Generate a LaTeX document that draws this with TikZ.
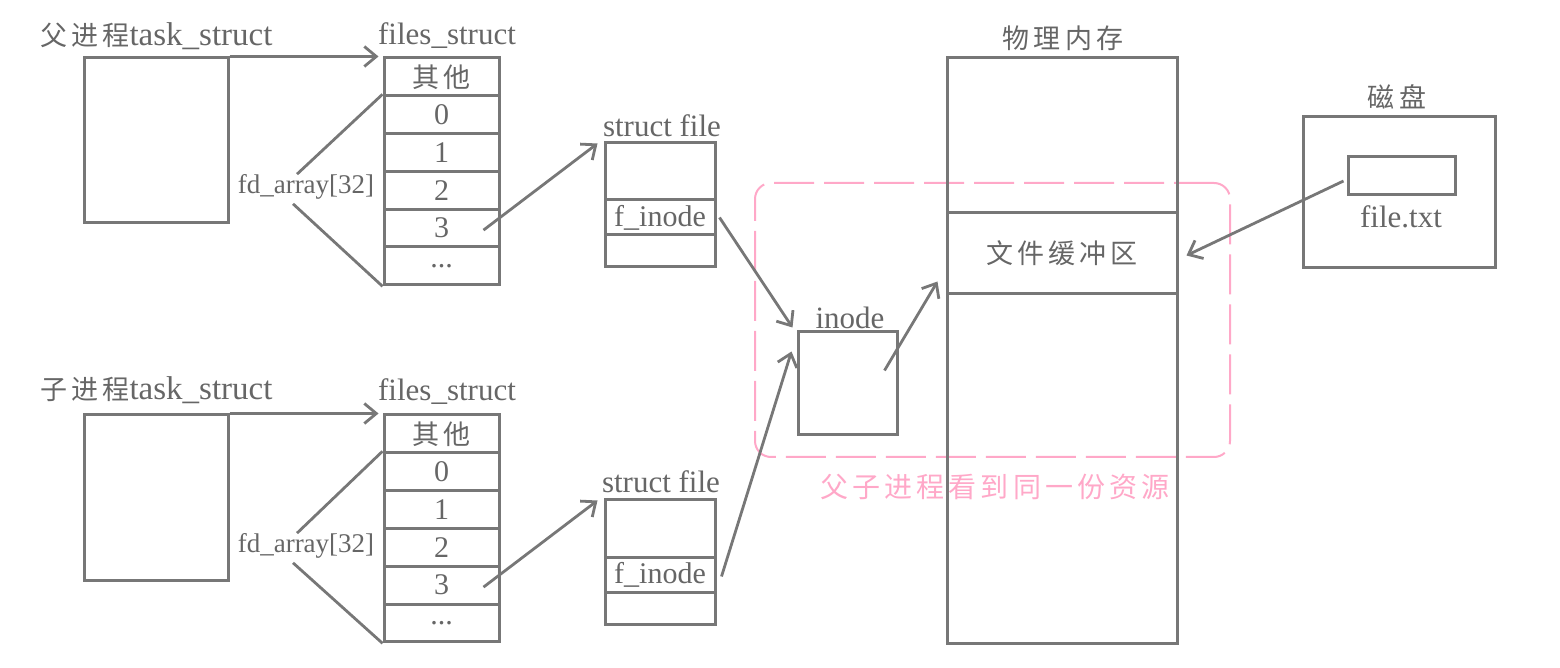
\documentclass[tikz,border=0pt]{standalone}
\usepackage{fontspec}
\setmainfont{Liberation Serif}
\newfontfamily\cjk[LetterSpace=15]{Noto Sans CJK SC}
\newcommand\cjktext[1]{{\fontsize{13.5}{16}\selectfont\cjk #1}}
\usetikzlibrary{arrows.meta,calc}
\definecolor{lc}{HTML}{777777}
\definecolor{tc}{HTML}{666666}
\definecolor{pk}{HTML}{FFA8C8}
\begin{document}
\begin{tikzpicture}[x=0.5pt,y=-0.5pt,
 box/.style={draw=lc,line width=1.5pt,inner sep=0pt,text=tc,font=\fontsize{15}{17}\selectfont},
 lbl/.style={text=tc,font=\fontsize{15.5}{18}\selectfont,inner sep=0pt},
 cell/.style={box,minimum width=57.5pt,minimum height=18.9pt},
 sfw/.style={box,minimum width=55pt},
 conn/.style={draw=lc,line width=1.4pt},
 arr/.style={conn,-{Straight Barb[length=6pt,width=10pt,line width=1.4pt]}},
]
\useasboundingbox (0,0) rectangle (1560,668);

% pink group frame
\node[draw=pk,line width=1pt,dash pattern=on 20pt off 5pt,rounded corners=8pt,
  minimum width=237.5pt,minimum height=137pt,inner sep=0pt] (grp) at (992.5,320) {};
\node[text=pk,inner sep=0pt] (grpl) at (995,487) {{\fontsize{14}{16}\selectfont\cjk 父子进程看到同一份资源}};

% ---------- parent ----------
\node[lbl,anchor=west] (ptl) at (40,36) {\cjktext{父进程}{\fontsize{16.5}{18}\selectfont task\_struct}};
\node[box,minimum width=72pt,minimum height=82.5pt] (pt) at (156,140.5) {};
\node[lbl] (pfl) at (447,36) {files\_struct};
\node[cell] (po) at (441.5,76.9) {\cjktext{其他}};
\node[cell] (p0) at (441.5,114.7) {0};
\node[cell] (p1) at (441.5,152.5) {1};
\node[cell] (p2) at (441.5,190.3) {2};
\node[cell] (p3) at (441.5,228.1) {3};
\node[cell] (pd) at (441.5,265.9) {...};
\node[lbl,font=\fontsize{13.5}{15}\selectfont] (pfd) at (306,187) {fd\_array[32]};
\draw[conn] ($(pfd.north)+(-9,0)$) -- (p0.north west);
\draw[conn] ($(pfd.south)+(-13,4)$) -- (pd.south west);
\draw[arr] (pt.north east) -- ($(po.north west)+(-4,0)$);

\node[lbl] (psfl) at (662,126) {struct file};
\node[sfw,minimum height=28.5pt] (psf1) at (660,171.5) {};
\node[sfw,minimum height=17.5pt] (psf2) at (660,217.5) {f\_inode};
\node[sfw,minimum height=16pt] (psf3) at (660,251) {};
\draw[arr] ($(p3.center)+(42,2)$) -- ($(psf1.north west)+(-6,2)$);

% ---------- child ----------
\node[lbl,anchor=west] (ctl) at (40,390) {\cjktext{子进程}{\fontsize{16.5}{18}\selectfont task\_struct}};
\node[box,minimum width=72pt,minimum height=82.5pt] (ct) at (156,497.5) {};
\node[lbl] (cfl) at (447,392) {files\_struct};
\node[cell] (co) at (441.5,433.9) {\cjktext{其他}};
\node[cell] (c0) at (441.5,471.7) {0};
\node[cell] (c1) at (441.5,509.5) {1};
\node[cell] (c2) at (441.5,547.3) {2};
\node[cell] (c3) at (441.5,585.1) {3};
\node[cell] (cd) at (441.5,622.9) {...};
\node[lbl,font=\fontsize{13.5}{15}\selectfont] (cfd) at (306,546) {fd\_array[32]};
\draw[conn] ($(cfd.north)+(-9,0)$) -- (c0.north west);
\draw[conn] ($(cfd.south)+(-13,4)$) -- (cd.south west);
\draw[arr] (ct.north east) -- ($(co.north west)+(-4,0)$);

\node[lbl] (csfl) at (661,482) {struct file};
\node[sfw,minimum height=28.5pt] (csf1) at (660,528.5) {};
\node[sfw,minimum height=17.5pt] (csf2) at (660,574.5) {f\_inode};
\node[sfw,minimum height=16pt] (csf3) at (660,608) {};
\draw[arr] ($(c3.center)+(42,2)$) -- ($(csf1.north west)+(-6,2)$);

% ---------- inode ----------
\node[lbl] (inol) at (850,318) {inode};
\node[box,minimum width=49.5pt,minimum height=51.5pt] (ino) at (847.5,383.5) {};
\draw[arr] ($(psf2.east)+(3,0)$) -- ($(ino.north west)+(-4,-3)$);
\draw[arr] ($(csf2.east)+(5,2)$) -- ($(ino.north west)+(-5,21)$);

% ---------- memory ----------
\node[lbl] (meml) at (1063,38) {\cjktext{物理内存}};
\node[box,minimum width=115pt,minimum height=77.5pt] (mt) at (1062,135.5) {};
\node[box,minimum width=115pt,minimum height=40.5pt] (buf) at (1062,253.5) {\cjktext{文件缓冲区}};
\node[box,minimum width=115pt,minimum height=174.5pt] (mb) at (1062,468.5) {};
\draw[arr] ($(ino.center)+(37,-13)$) -- ($(buf.south west)+(-8,-14)$);

% ---------- disk ----------
\node[lbl] (dl) at (1397,97) {\cjktext{磁盘}};
\node[box,minimum width=96pt,minimum height=75.5pt] (disk) at (1399,192.5) {};
\node[box,minimum width=53.5pt,minimum height=19pt] (ft) at (1401.5,176) {};
\node[lbl] (ftl) at (1401,217) {file.txt};
\draw[arr] ($(ft.west)+(-3,5)$) -- ($(buf.east)+(8,2)$);
\end{tikzpicture}
\end{document}
